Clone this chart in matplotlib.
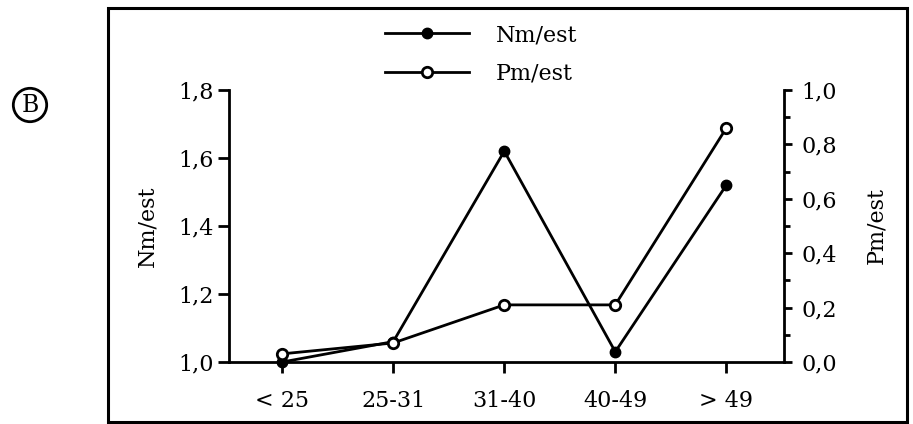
import matplotlib
matplotlib.use("Agg")
import matplotlib.pyplot as plt
from matplotlib.patches import Rectangle
from matplotlib.ticker import MultipleLocator, FuncFormatter

categories = ["< 25", "25-31", "31-40", "40-49", "> 49"]
nm_est = [1.00, 1.06, 1.62, 1.03, 1.52]
pm_est = [0.03, 0.07, 0.21, 0.21, 0.86]

plt.rcParams["font.family"] = ["DejaVu Serif"]
FS = 16

fig = plt.figure(figsize=(9.13, 4.24), dpi=100)
ax = fig.add_axes([229 / 913, 1 - 362 / 424, (784 - 229) / 913, (362 - 90) / 424])
ax2 = ax.twinx()

x = list(range(len(categories)))
ln1, = ax.plot(x, nm_est, color="black", lw=2, marker="o", ms=7.5,
               mfc="black", mec="black", clip_on=False, zorder=3)
ln2, = ax2.plot(x, pm_est, color="black", lw=2, marker="o", ms=7.5,
                mfc="white", mec="black", mew=2, clip_on=False, zorder=3)

ax.set_xlim(-0.48, 4.52)
ax.set_ylim(1.0, 1.8)
ax2.set_ylim(0.0, 1.0)

comma = FuncFormatter(lambda v, p: f"{v:.1f}".replace(".", ","))
ax.yaxis.set_major_locator(MultipleLocator(0.2))
ax.yaxis.set_major_formatter(comma)
ax2.yaxis.set_major_locator(MultipleLocator(0.2))
ax2.yaxis.set_minor_locator(MultipleLocator(0.1))
ax2.yaxis.set_major_formatter(comma)

ax.set_xticks(x)
ax.set_xticklabels(categories)

for a in (ax, ax2):
    a.spines["top"].set_visible(False)
    for s in a.spines.values():
        s.set_linewidth(2)
    a.patch.set_visible(False)
ax.spines["right"].set_visible(False)
ax2.spines["left"].set_visible(False)
ax2.spines["bottom"].set_visible(False)

ax.tick_params(axis="y", direction="out", length=8, width=2, labelsize=FS, pad=3)
ax.tick_params(axis="x", direction="out", length=8, width=2, labelsize=FS, pad=12)
ax2.tick_params(axis="y", which="major", direction="out", length=5.5, width=2, labelsize=FS, pad=7)
ax2.tick_params(axis="y", which="minor", direction="out", length=4, width=2)

ax.set_ylabel("Nm/est", fontsize=FS, labelpad=14)
ax2.set_ylabel("Pm/est", fontsize=FS, labelpad=20)

# legend drawn in figure coordinates above the plot
leg = fig.legend([ln1, ln2], ["Nm/est", "Pm/est"], loc="upper left",
                 bbox_to_anchor=(385 / 913, 1 - 24 / 424), frameon=False,
                 fontsize=FS, handlelength=3.8, handletextpad=1.2,
                 labelspacing=0.75, borderpad=0, borderaxespad=0)

# outer frame around the panel
fig.patches.append(Rectangle((108 / 913, 2 / 424), (907 - 108) / 913, (416 - 2) / 424,
                             transform=fig.transFigure, fill=False,
                             lw=2.2, edgecolor="black"))

# panel letter
fig.text(30 / 913, 1 - 105 / 424, "B", ha="center", va="center", fontsize=17,
         bbox=dict(boxstyle="circle,pad=0.22", fc="white", ec="black", lw=2))

fig.savefig("out.png", dpi=100, facecolor="white")
